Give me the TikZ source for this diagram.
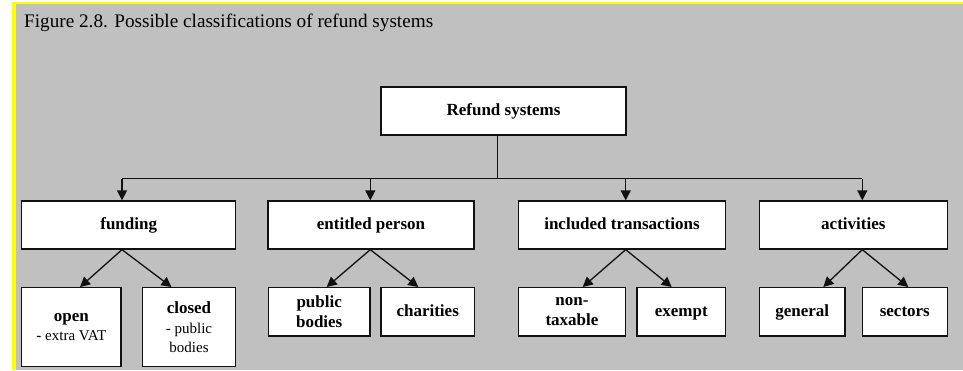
\documentclass[tikz,border=0pt]{standalone}
\usepackage{fontspec}
\setmainfont{Liberation Serif}
\usetikzlibrary{arrows.meta}
\definecolor{bggray}{HTML}{C0C0C0}
\definecolor{frameyellow}{HTML}{FFFF00}
\definecolor{linec}{HTML}{111111}
\newcommand\subfnt{\fontsize{15}{19.5}\selectfont}
\begin{document}
\begin{tikzpicture}[x=1pt,y=-1pt,
  box/.style={draw=linec, fill=white, line width=1.3pt, inner sep=0pt, align=center,
    font=\fontsize{17}{19.5}\selectfont\bfseries},
  oneline/.style={box, text height=12.2pt, text depth=3.6pt},
  conn/.style={draw=linec, line width=1.3pt},
  arr/.style={conn, -{Triangle[length=10pt,width=10pt]}}
]
% canvas and frame
\useasboundingbox (0,0) rectangle (963,370);
\fill[white] (0,0) rectangle (963,370);
\fill[frameyellow] (12,2) rectangle (963,370);
\fill[bggray] (15.5,4.3) rectangle (963,370);

\node[anchor=base west, font=\fontsize{19.2}{22}\selectfont, inner sep=0pt] (title) at (24,27.3)
  {Figure 2.8. Possible classifications of refund systems};

% root
\node[oneline, minimum width=245pt, minimum height=48pt] (root) at (503.5,111) {Refund systems};

% level 1
\node[oneline, minimum width=214pt, minimum height=48pt] (funding) at (128.7,225) {funding};
\node[oneline, minimum width=206pt, minimum height=48pt] (entitled) at (371,225) {entitled person};
\node[oneline, minimum width=207.4pt, minimum height=48pt] (included) at (622,225) {included transactions};
\node[oneline, minimum width=188pt, minimum height=48pt] (activities) at (853.3,225) {activities};

% level 2
\node[box, minimum width=99.3pt, minimum height=79pt] (open) at (71.3,327.2)
  {open\\{\subfnt\textbf{-} \mdseries extra VAT}};
\node[box, minimum width=93pt, minimum height=79pt] (closed) at (189,327.2)
  {closed\\{\subfnt\mdseries - public}\\{\subfnt\mdseries bodies}};
\node[box, minimum width=101.7pt, minimum height=48.3pt] (publicb) at (319.2,311.8) {public\\bodies};
\node[oneline, minimum width=93.3pt, minimum height=48.3pt] (charities) at (427.7,311.8) {charities};
\node[box, minimum width=107.4pt, minimum height=48.3pt] (nontax) at (572,311.8) {non-\\taxable};
\node[oneline, minimum width=88.7pt, minimum height=48.3pt] (exempt) at (681.3,311.8) {exempt};
\node[oneline, minimum width=85.7pt, minimum height=48.3pt] (general) at (802.2,311.8) {general};
\node[oneline, minimum width=85pt, minimum height=48.3pt] (sectors) at (904.8,311.8) {sectors};

% bus
\coordinate (stem) at (497.7,178.5);
\coordinate (j1) at (122,178.5);
\coordinate (j2) at (370.3,178.5);
\coordinate (j3) at (625.7,178.5);
\coordinate (j4) at (862.3,178.5);

\draw[conn] (root.south -| stem) -- (stem);
\draw[conn] (j1) -- (j4);
\draw[arr] (j1) -- (j1 |- funding.north);
\draw[arr] (j2) -- (j2 |- entitled.north);
\draw[arr] (j3) -- (j3 |- included.north);
\draw[arr] (j4) -- (j4 |- activities.north);

% diagonals
\draw[arr] (funding.south -| j1) -- ([xshift=8.7pt]open.north);
\draw[arr] (funding.south -| j1) -- ([xshift=-17.5pt]closed.north);
\draw[arr] (entitled.south -| j2) -- ([xshift=7.5pt]publicb.north);
\draw[arr] (entitled.south -| j2) -- ([xshift=-9.4pt]charities.north);
\draw[arr] (included.south -| j3) -- ([xshift=10.7pt]nontax.north);
\draw[arr] (included.south -| j3) -- ([xshift=-9.6pt]exempt.north);
\draw[arr] (activities.south -| j4) -- ([xshift=21.1pt]general.north);
\draw[arr] (activities.south -| j4) -- ([xshift=3.5pt]sectors.north);
\end{tikzpicture}
\end{document}
